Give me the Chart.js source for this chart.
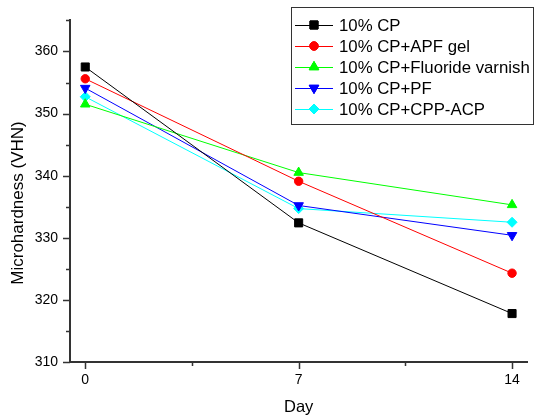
<!DOCTYPE html>
<html>
<head>
<meta charset="utf-8">
<script src="https://cdn.jsdelivr.net/npm/chart.js@4"></script>
<style>
  body { margin: 0; background: #fff; }
  canvas { display: block; }
</style>
</head>
<body>
<canvas id="hardnessChart" width="534" height="417"></canvas>
<script>
// Data
var days = [0, 7, 14];
var seriesNames = ['10% CP', '10% CP+APF gel', '10% CP+Fluoride varnish', '10% CP+PF', '10% CP+CPP-ACP'];
var cp = [357.5, 332.4, 317.8];
var apfGel = [355.6, 339.1, 324.3];
var fluorideVarnish = [351.5, 340.5, 335.3];
var pf = [354.1, 335.2, 330.4];
var cppAcp = [352.7, 334.7, 332.5];
var xMajorTicks = [0, 7, 14];
var xMinorTicks = [3.5, 10.5];
var yMajorTicks = [310, 320, 330, 340, 350, 360];
var yMinorTicks = [315, 325, 335, 345, 355, 365];

var FONT = "'Liberation Sans', Arial, sans-serif";

function toPoints(values) {
    return days.map(function (d, i) { return { x: d, y: values[i] }; });
}

function makeSet(label, values, color, style, radius, rotation) {
    return {
        label: label,
        data: toPoints(values),
        borderColor: color,
        backgroundColor: color,
        borderWidth: 1,
        pointStyle: style,
        pointRadius: radius,
        pointRotation: rotation || 0,
        pointBackgroundColor: color,
        pointBorderColor: color,
        pointBorderWidth: 1,
        tension: 0
    };
}

// draws minor/major tick marks, the y title and the boxed legend
var decorPlugin = {
    id: 'decor',
    afterDraw: function (chart) {
        var ctx = chart.ctx;
        var xs = chart.scales.x, ys = chart.scales.y;
        var area = chart.chartArea;
        ctx.save();
        ctx.strokeStyle = '#333';
        ctx.lineWidth = 1.5;
        ctx.beginPath();
        xMajorTicks.forEach(function (v) {
            var px = Math.round(xs.getPixelForValue(v)) + 0.5;
            ctx.moveTo(px, area.bottom); ctx.lineTo(px, area.bottom + 7);
        });
        xMinorTicks.forEach(function (v) {
            var px = Math.round(xs.getPixelForValue(v)) + 0.5;
            ctx.moveTo(px, area.bottom); ctx.lineTo(px, area.bottom + 4);
        });
        yMajorTicks.forEach(function (v) {
            var py = Math.round(ys.getPixelForValue(v)) + 0.5;
            ctx.moveTo(area.left, py); ctx.lineTo(area.left - 7, py);
        });
        yMinorTicks.forEach(function (v) {
            var py = Math.round(ys.getPixelForValue(v)) + 0.5;
            ctx.moveTo(area.left, py); ctx.lineTo(area.left - 4, py);
        });
        ctx.stroke();

        // y axis title (sits a bit below the centre in the original)
        ctx.save();
        ctx.translate(18, 203);
        ctx.rotate(-Math.PI / 2);
        ctx.font = '17px ' + FONT;
        ctx.fillStyle = '#000';
        ctx.textAlign = 'center';
        ctx.textBaseline = 'middle';
        ctx.fillText('Microhardness (VHN)', 0, 0);
        ctx.restore();

        // legend box
        ctx.lineWidth = 1;
        ctx.strokeStyle = '#333';
        ctx.strokeRect(291.5, 7.5, 242, 117);
        ctx.font = '16.8px ' + FONT;
        ctx.textBaseline = 'middle';
        ctx.textAlign = 'left';
        chart.data.datasets.forEach(function (ds, i) {
            var y = 25 + i * 21;
            ctx.strokeStyle = ds.borderColor;
            ctx.lineWidth = 1;
            ctx.beginPath();
            ctx.moveTo(295, y + 0.5); ctx.lineTo(333, y + 0.5);
            ctx.stroke();
            Chart.helpers.drawPoint(ctx, {
                pointStyle: ds.pointStyle,
                radius: ds.pointRadius,
                rotation: ds.pointRotation,
                borderWidth: 1
            }, 314, y);
            ctx.fillStyle = ds.pointBackgroundColor;
            ctx.strokeStyle = ds.pointBorderColor;
            ctx.fill();
            ctx.stroke();
            ctx.fillStyle = '#000';
            ctx.fillText(ds.label, 339, y + 1);
        });
        ctx.restore();
    }
};

var ctx = document.getElementById('hardnessChart').getContext('2d');

var hardnessChart = new Chart(ctx, {
    type: 'line',
    data: {
        datasets: [
            makeSet(seriesNames[0], cp, '#000000', 'rect', 5.7),
            makeSet(seriesNames[1], apfGel, '#ff0000', 'circle', 4.2),
            makeSet(seriesNames[2], fluorideVarnish, '#00ff00', 'triangle', 5.5),
            makeSet(seriesNames[3], pf, '#0000ff', 'triangle', 5.5, 180),
            makeSet(seriesNames[4], cppAcp, '#00ffff', 'rectRot', 5)
        ]
    },
    options: {
        responsive: false,
        animation: false,
        layout: { padding: { top: 19, right: 0, left: 0, bottom: 0 } },
        scales: {
            x: {
                type: 'linear',
                min: -0.5,
                max: 14.5,
                afterBuildTicks: function (scale) {
                    scale.ticks = xMajorTicks.map(function (v) { return { value: v }; });
                },
                afterFit: function (scale) { scale.height = 55; },
                grid: { drawOnChartArea: false, drawTicks: false },
                border: { display: true, color: '#333', width: 2 },
                ticks: {
                    autoSkip: false,
                    maxRotation: 0,
                    padding: 10,
                    color: '#000',
                    font: { family: FONT, size: 14 }
                },
                title: {
                    display: true,
                    text: 'Day',
                    color: '#000',
                    font: { family: FONT, size: 16.5 },
                    padding: { top: 1, bottom: 0 }
                }
            },
            y: {
                min: 310,
                max: 365,
                afterBuildTicks: function (scale) {
                    scale.ticks = yMajorTicks.map(function (v) { return { value: v }; });
                },
                afterFit: function (scale) { scale.width = 70; },
                grid: { drawOnChartArea: false, drawTicks: false },
                border: { display: true, color: '#333', width: 2 },
                ticks: {
                    autoSkip: false,
                    padding: 12,
                    color: '#000',
                    font: { family: FONT, size: 14 }
                },
                title: { display: false }
            }
        },
        plugins: {
            legend: { display: false },
            tooltip: { enabled: false },
            title: { display: false }
        }
    },
    plugins: [decorPlugin]
});
</script>
</body>
</html>
